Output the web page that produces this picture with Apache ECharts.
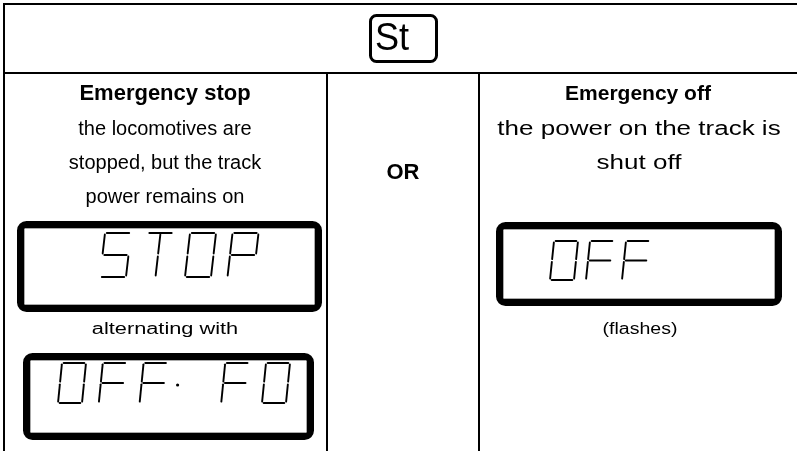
<!DOCTYPE html>
<html><head><meta charset="utf-8">
<script src="https://cdn.jsdelivr.net/npm/echarts@6/dist/echarts.min.js"></script>
<style>html,body{margin:0;padding:0;background:#fff}#c{width:797px;height:451px}</style>
</head><body><div id="c"></div>
<script>
// ---- content ----
var headerKey = 'St';
var leftTitle = 'Emergency stop';
var leftLines = ['the locomotives are', 'stopped, but the track', 'power remains on'];
var middleText = 'OR';
var rightTitle = 'Emergency off';
var rightLines = ['the power on the track is', 'shut off'];
var leftCaption = 'alternating with';
var rightCaption = '(flashes)';
var display1 = ['S', 'T', 'O', 'P'];
var display2 = ['O', 'F', 'F', '.', 'F', '0'];
var display3 = ['O', 'F', 'F'];

// seven-segment patterns (a top, b upper right, c lower right, d bottom, e lower left, f upper left, g middle, m centre vertical)
var segMap = {
  'S': ['a', 'f', 'g', 'c', 'd'],
  'T': ['a', 'm1', 'm2'],
  'O': ['a', 'b', 'c', 'd', 'e', 'f'],
  '0': ['a', 'b', 'c', 'd', 'e', 'f'],
  'P': ['a', 'b', 'f', 'g', 'e'],
  'F': ['a', 'f', 'g', 'e']
};
var segDef = {
  a: [[0, 0], [1, 0]], b: [[1, 0], [1, 0.5]], c: [[1, 0.5], [1, 1]],
  d: [[0, 1], [1, 1]], e: [[0, 0.5], [0, 1]], f: [[0, 0], [0, 0.5]],
  g: [[0, 0.5], [1, 0.5]], m1: [[0.5, 0], [0.5, 0.5]], m2: [[0.5, 0.5], [0.5, 1]]
};

var chart = echarts.init(document.getElementById('c'), null, {renderer: 'canvas'});
var g = [];
var FONT = '"Liberation Sans", Arial, sans-serif';

function line(x1, y1, x2, y2, w) {
  g.push({type: 'line', shape: {x1: x1, y1: y1, x2: x2, y2: y2}, style: {stroke: '#000', lineWidth: w || 2}});
}
function text(str, x, y, size, bold, align, sx) {
  g.push({type: 'text', x: x, y: y, scaleX: sx || 1, style: {text: str, fill: '#000', font: (bold ? 'bold ' : '') + size + 'px ' + FONT, textAlign: align || 'center', textVerticalAlign: 'middle'}});
}
function lcdBox(x, y, w, h) {
  g.push({type: 'rect', shape: {x: x + 3.5, y: y + 3.5, width: w - 7, height: h - 7, r: 6}, style: {fill: '#fff', stroke: '#000', lineWidth: 7}});
  g.push({type: 'rect', shape: {x: x + 7.5, y: y + 7.5, width: w - 15, height: h - 15, r: 1}, style: {fill: 'none', stroke: '#aaa', lineWidth: 1}});
}
function glyph(ch, x0, y0, w, h, s) {
  if (ch === '.') {
    g.push({type: 'circle', shape: {cx: x0 - w * 0.2 + s * 0.5, cy: y0 + h * 0.55, r: 1.6}, style: {fill: '#000'}});
    return;
  }
  var segs = segMap[ch] || [];
  var gap = 0.07;
  segs.forEach(function (k) {
    var d = segDef[k];
    var u1 = d[0][0], v1 = d[0][1], u2 = d[1][0], v2 = d[1][1];
    var du = u2 - u1, dv = v2 - v1;
    var U1 = u1 + du * gap, V1 = v1 + dv * gap, U2 = u2 - du * gap, V2 = v2 - dv * gap;
    var P = function (u, v) { return [x0 + u * w + (1 - v) * s, y0 + v * h]; };
    var p1 = P(U1, V1), p2 = P(U2, V2);
    g.push({type: 'line', shape: {x1: p1[0], y1: p1[1], x2: p2[0], y2: p2[1]}, style: {stroke: '#000', lineWidth: 1.9, lineCap: 'round'}});
  });
}
function display(chars, x0, y0, pitch, w, h, s) {
  chars.forEach(function (ch, i) { glyph(ch, x0 + i * pitch, y0, w, h, s); });
}

// frame
line(3, 4, 800, 4, 2);
line(4, 3, 4, 452, 2);
line(3, 73, 800, 73, 2);
line(327, 73, 327, 452, 2);
line(479, 73, 479, 452, 2);

// header key
g.push({type: 'rect', shape: {x: 370.5, y: 15.5, width: 66, height: 46, r: 6}, style: {fill: '#fff', stroke: '#000', lineWidth: 3}});
text(headerKey, 375, 40, 38, false, 'left', 0.95);

// columns
text(leftTitle, 165, 94, 22, true);
leftLines.forEach(function (t, i) { text(t, 165, 129 + i * 34, 20, false); });
text(middleText, 403, 173, 22, true);
text(rightTitle, 638, 94, 21, true);
rightLines.forEach(function (t, i) { text(t, 639, 129 + i * 34, 20, false, 'center', 1.3); });
text(leftCaption, 165, 330, 16, false, 'center', 1.36);
text(rightCaption, 640, 330, 16, false, 'center', 1.22);

lcdBox(17, 221, 305, 91);
lcdBox(23, 353, 291, 87);
lcdBox(496, 222, 286, 84);

display(display1, 100, 233, 42.5, 26, 44, 5);
display(display2, 58, 363, 40.8, 24, 40, 4);
display(display3, 550, 241, 36, 24, 39, 4);

chart.setOption({animation: false, graphic: {elements: g}});
</script></body></html>
